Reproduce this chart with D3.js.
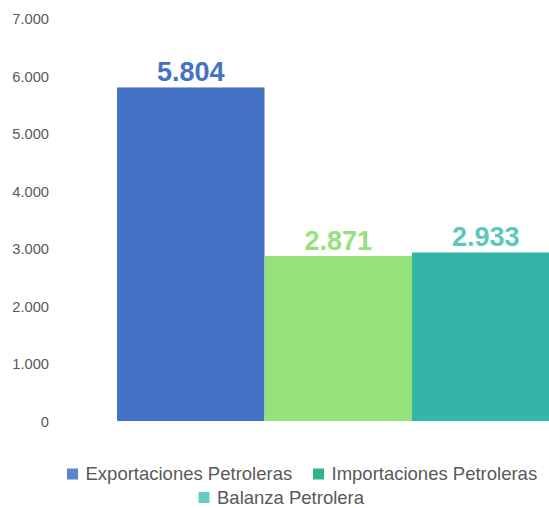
<!DOCTYPE html>
<html>
<head>
<meta charset="utf-8">
<script src="https://cdn.jsdelivr.net/npm/d3@7"></script>
<style>
  html, body { margin: 0; padding: 0; background: #ffffff; }
  svg { display: block; }
</style>
</head>
<body>
<svg id="chart" width="549" height="508"></svg>
<script>
const categories = ["Exportaciones Petroleras", "Importaciones Petroleras", "Balanza Petrolera"];
const values = [5804, 2871, 2933];
const valueLabels = ["5.804", "2.871", "2.933"];
const barColors = ["#4472c4", "#95e27a", "#33b5aa"];
const labelColors = ["#4472c4", "#95e27a", "#5cc8bd"];
const legendColors = ["#5686d0", "#2eb38e", "#6acbc4"];
const tickValues = [0, 1000, 2000, 3000, 4000, 5000, 6000, 7000];
const tickLabels = ["0", "1.000", "2.000", "3.000", "4.000", "5.000", "6.000", "7.000"];

const svg = d3.select("#chart");
const font = "'Liberation Sans', Arial, sans-serif";

const y = d3.scaleLinear().domain([0, 7000]).range([421, 18.7]);
const x = d3.scaleBand().domain(categories).range([117, 559.5]).paddingInner(0).paddingOuter(0);

// Y axis (labels only)
const yAxis = d3.axisLeft(y).tickValues(tickValues)
  .tickFormat((d, i) => tickLabels[i]).tickSize(0).tickPadding(0);
const ga = svg.append("g").attr("transform", "translate(49,0)").call(yAxis);
ga.select(".domain").remove();
ga.selectAll("text").attr("font-family", font).attr("font-size", "14.7px")
  .attr("fill", "#595959").attr("dy", "0.35em");

// Bars
svg.append("g").selectAll("rect").data(values).enter().append("rect")
  .attr("x", (d, i) => x(categories[i]))
  .attr("width", x.bandwidth())
  .attr("y", d => y(d))
  .attr("height", d => y(0) - y(d))
  .attr("fill", (d, i) => barColors[i]);

// Value labels
svg.append("g").selectAll("text").data(values).enter().append("text")
  .attr("x", (d, i) => x(categories[i]) + x.bandwidth() / 2)
  .attr("y", d => y(d) - 6)
  .attr("text-anchor", "middle")
  .attr("font-family", font).attr("font-weight", "bold").attr("font-size", "27px")
  .attr("fill", (d, i) => labelColors[i])
  .text((d, i) => valueLabels[i]);

// Legend
const legendPos = [
  { mx: 67, base: 480 },
  { mx: 313, base: 480 },
  { mx: 198.5, base: 503.5 }
];
const lg = svg.append("g");
categories.forEach((c, i) => {
  const p = legendPos[i];
  lg.append("rect").attr("x", p.mx).attr("y", p.base - 11.5)
    .attr("width", 11).attr("height", 11).attr("fill", legendColors[i]);
  lg.append("text").attr("x", p.mx + 18.5).attr("y", p.base)
    .attr("font-family", font).attr("font-size", "18.5px").attr("fill", "#595959")
    .text(c);
});
</script>
</body>
</html>
